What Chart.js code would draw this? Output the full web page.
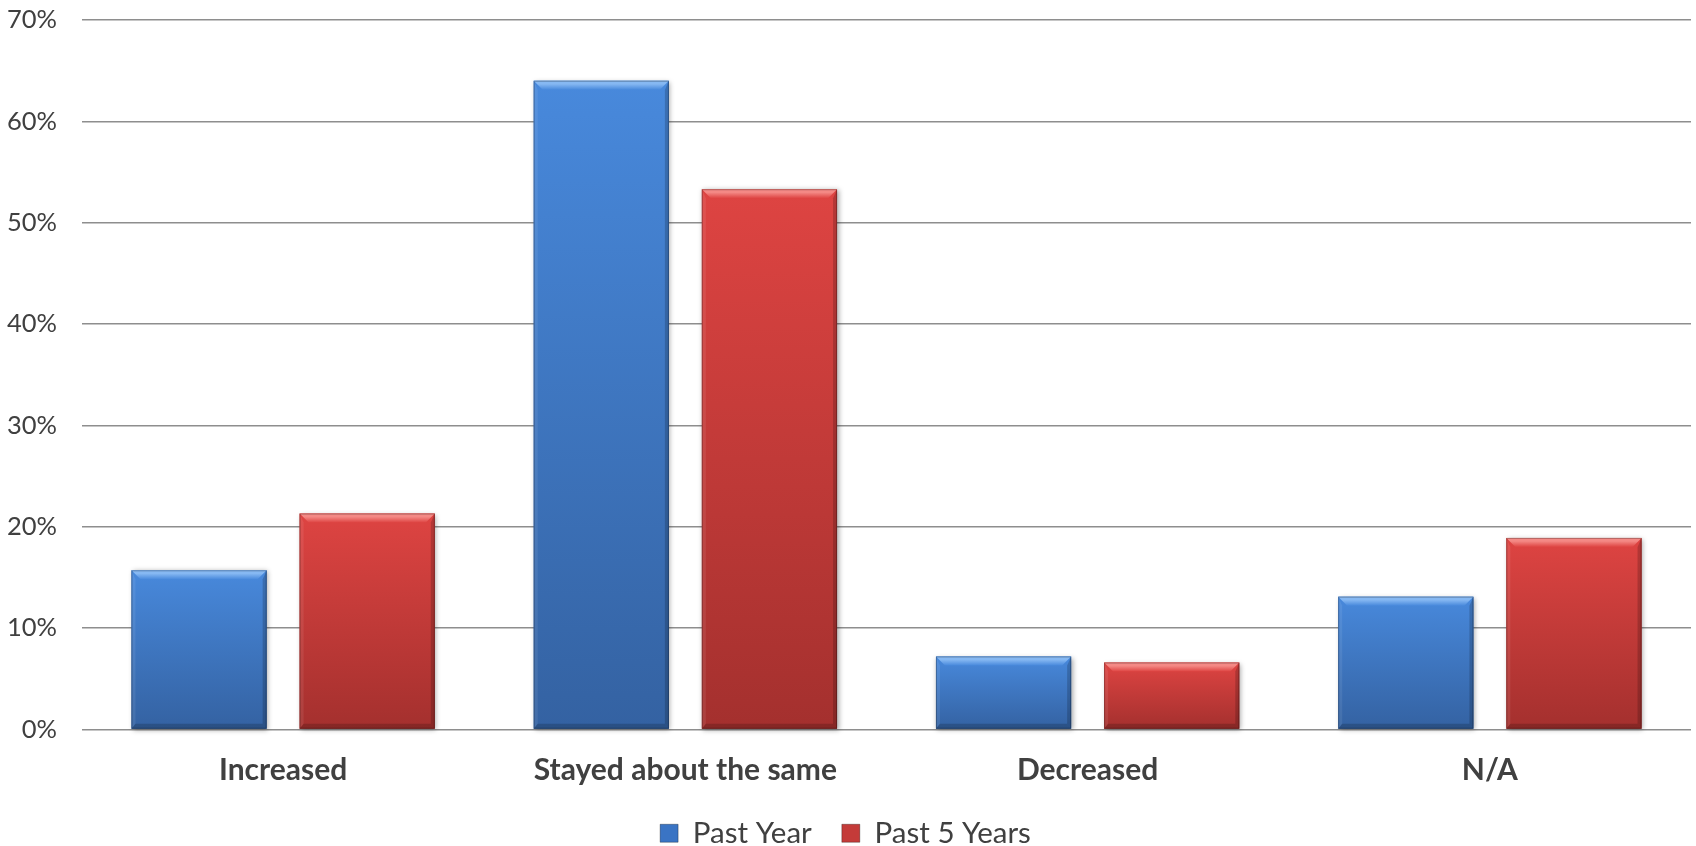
<!DOCTYPE html>
<html><head><meta charset="utf-8">
<script src="https://cdn.jsdelivr.net/npm/chart.js@4/dist/chart.umd.min.js"></script>
<style>html,body{margin:0;padding:0;background:#fff;overflow:hidden}#wrap{width:1696px;height:858px;position:relative}</style>
</head><body><div id="wrap"><canvas id="c"></canvas></div>
<script>
const categories = ['Increased', 'Stayed about the same', 'Decreased', 'N/A'];
const pastYear = [15.7, 64.0, 7.2, 13.1];
const past5Years = [21.3, 53.3, 6.6, 18.9];
const seriesNames = ['Past Year', 'Past 5 Years'];
const yMin = 0, yMax = 70, yStep = 10;

const shades = [
  {top:'#4889dc', bottom:'#3462a2', light:'#86b8f2', legend:'#3a74c4'},
  {top:'#de4442', bottom:'#a4302e', light:'#f48985', legend:'#c43b39'}
];

const bevelPlugin = {
  id: 'bevel',
  afterDatasetsDraw(chart) {
    const ctx = chart.ctx;
    chart.data.datasets.forEach((ds, di) => {
      const meta = chart.getDatasetMeta(di);
      const s = shades[di];
      meta.data.forEach(bar => {
        const p = bar.getProps(['x','y','base','width'], true);
        const l = p.x - p.width/2, r = p.x + p.width/2;
        const t = Math.min(p.y, p.base), b = Math.max(p.y, p.base);
        const w = p.width, h = b - t;
        ctx.save();
        ctx.shadowColor = 'rgba(0,0,0,0.35)'; ctx.shadowBlur = 5;
        ctx.shadowOffsetX = 1.5; ctx.shadowOffsetY = 1;
        const g = ctx.createLinearGradient(0, t, 0, b);
        g.addColorStop(0, s.top); g.addColorStop(1, s.bottom);
        ctx.fillStyle = g; ctx.fillRect(l, t, w, h);
        ctx.restore();
        const bv = Math.min(9, h/3), sv = 4, bb = Math.min(5, h/4);
        ctx.save();
        ctx.beginPath(); ctx.moveTo(l, t); ctx.lineTo(r, t); ctx.lineTo(r-bv, t+bv); ctx.lineTo(l+bv, t+bv); ctx.closePath();
        const gt = ctx.createLinearGradient(0, t, 0, t+bv);
        gt.addColorStop(0, s.light); gt.addColorStop(0.35, s.light); gt.addColorStop(1, s.top);
        ctx.fillStyle = gt; ctx.fill();
        ctx.beginPath(); ctx.moveTo(l, t); ctx.lineTo(l+sv, t+bv); ctx.lineTo(l+sv, b-bb); ctx.lineTo(l, b); ctx.closePath();
        ctx.fillStyle = 'rgba(255,255,255,0.08)'; ctx.fill();
        ctx.beginPath(); ctx.moveTo(r, t); ctx.lineTo(r-sv, t+bv); ctx.lineTo(r-sv, b-bb); ctx.lineTo(r, b); ctx.closePath();
        ctx.fillStyle = 'rgba(0,0,0,0.18)'; ctx.fill();
        ctx.beginPath(); ctx.moveTo(l, b); ctx.lineTo(r, b); ctx.lineTo(r-sv, b-bb); ctx.lineTo(l+sv, b-bb); ctx.closePath();
        ctx.fillStyle = 'rgba(0,0,0,0.18)'; ctx.fill();
        ctx.strokeStyle = 'rgba(0,0,0,0.25)'; ctx.lineWidth = 1;
        ctx.strokeRect(l+0.5, t+0.5, w-1, h-1);
        ctx.restore();
      });
    });
  }
};

new Chart(document.getElementById('c'), {
  type: 'bar',
  data: {
    labels: categories,
    datasets: [
      {label: seriesNames[0], data: pastYear, backgroundColor: shades[0].legend},
      {label: seriesNames[1], data: past5Years, backgroundColor: shades[1].legend}
    ]
  },
  plugins: [bevelPlugin],
  options: {
    responsive: true, maintainAspectRatio: false, animation: false,
    categoryPercentage: 0.836, barPercentage: 0.804,
    layout: {padding: {top: 0, right: 5, left: 0, bottom: 0}},
    plugins: {
      tooltip: {enabled: false},
      legend: {
        position: 'bottom',
        labels: {
          font: {family: 'Lato', size: 29.5}, color: '#404040',
          boxWidth: 18, boxHeight: 18, padding: 30,
          generateLabels(chart) {
            return chart.data.datasets.map((d, i) => ({
              text: d.label, fillStyle: shades[i].legend, strokeStyle: 'rgba(0,0,0,0.3)',
              lineWidth: 1, datasetIndex: i, hidden: false, fontColor: '#404040'
            }));
          }
        }
      }
    },
    scales: {
      x: {
        grid: {display: false, drawTicks: false},
        border: {display: false},
        ticks: {font: {family: 'Lato', size: 30, weight: 'bold'}, color: '#404040', padding: 23, maxRotation: 0},
        afterFit(scale) { scale.height = 59; }
      },
      y: {
        min: yMin, max: yMax,
        grid: {color: '#8e8e8e', lineWidth: 1.5, drawTicks: false},
        border: {display: false},
        ticks: {stepSize: yStep, font: {family: 'Lato', size: 25.5}, color: '#404040', padding: 25,
          callback: v => v + '%'},
        afterFit(scale) { scale.width = 82; scale.paddingTop = 20; scale.paddingBottom = 0; }
      }
    }
  }
});
</script></body></html>
